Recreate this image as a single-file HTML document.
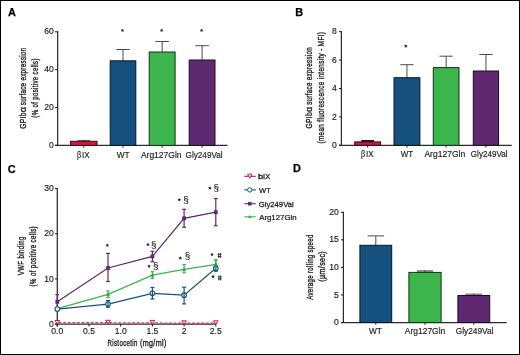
<!DOCTYPE html>
<html><head><meta charset="utf-8"><style>
html,body{margin:0;padding:0;background:#fff;}
body{width:520px;height:355px;overflow:hidden;}
svg{display:block;font-family:"Liberation Sans", sans-serif;will-change:transform;}

</style></head><body>
<svg width="520" height="355" viewBox="0 0 520 355">
<rect x="0.5" y="0.5" width="519" height="354" fill="#fff" stroke="#000" stroke-width="1"/>
<text transform="translate(7.93,15.8) scale(1.0000,1)" font-size="10.9" font-weight="bold" fill="#000" stroke="#000" stroke-width="0.25">A</text>
<line x1="57.65" y1="31.2" x2="57.65" y2="145.4" stroke="#2c2c2c" stroke-width="1.25" />
<line x1="55" y1="145.4" x2="227.5" y2="145.4" stroke="#2c2c2c" stroke-width="1.25" />
<line x1="55" y1="145.4" x2="57.65" y2="145.4" stroke="#1a1a1a" stroke-width="1.0" />
<text transform="translate(49.12,148) scale(1.0000,1)" font-size="8.6" fill="#1a1a1a" stroke="#1a1a1a" stroke-width="0.15">0</text>
<line x1="55" y1="107.53" x2="57.65" y2="107.53" stroke="#1a1a1a" stroke-width="1.0" />
<text transform="translate(44.33,110.13) scale(1.0000,1)" font-size="8.6" fill="#1a1a1a" stroke="#1a1a1a" stroke-width="0.15">20</text>
<line x1="55" y1="69.67" x2="57.65" y2="69.67" stroke="#1a1a1a" stroke-width="1.0" />
<text transform="translate(44.33,72.27) scale(1.0000,1)" font-size="8.6" fill="#1a1a1a" stroke="#1a1a1a" stroke-width="0.15">40</text>
<line x1="55" y1="31.8" x2="57.65" y2="31.8" stroke="#1a1a1a" stroke-width="1.0" />
<text transform="translate(44.33,34.4) scale(1.0000,1)" font-size="8.6" fill="#1a1a1a" stroke="#1a1a1a" stroke-width="0.15">60</text>
<rect x="77.4" y="139.9" width="12.8" height="1.4" fill="#6e6e6e"/>
<line x1="83.8" y1="140.1" x2="83.8" y2="141.3" stroke="#333" stroke-width="0.9" />
<rect x="70.6" y="141.3" width="26.4" height="4.1" fill="#d4153a" stroke="#3f0611" stroke-width="1.0"/>
<line x1="83.8" y1="145.4" x2="83.8" y2="147.6" stroke="#1a1a1a" stroke-width="1.0" />
<line x1="123" y1="49.5" x2="123" y2="60.8" stroke="#4a4a4a" stroke-width="1.0" />
<line x1="116.3" y1="49.5" x2="129.7" y2="49.5" stroke="#4a4a4a" stroke-width="1.0" />
<rect x="110.2" y="60.8" width="25.6" height="84.6" fill="#15507f" stroke="#061826" stroke-width="1.0"/>
<line x1="123" y1="145.4" x2="123" y2="147.6" stroke="#1a1a1a" stroke-width="1.0" />
<line x1="162.15" y1="41.5" x2="162.15" y2="52" stroke="#4a4a4a" stroke-width="1.0" />
<line x1="155.45" y1="41.5" x2="168.85" y2="41.5" stroke="#4a4a4a" stroke-width="1.0" />
<rect x="149.2" y="52" width="25.9" height="93.4" fill="#3bb54c" stroke="#113616" stroke-width="1.0"/>
<line x1="162.15" y1="145.4" x2="162.15" y2="147.6" stroke="#1a1a1a" stroke-width="1.0" />
<line x1="202.1" y1="45.7" x2="202.1" y2="60" stroke="#4a4a4a" stroke-width="1.0" />
<line x1="195.4" y1="45.7" x2="208.8" y2="45.7" stroke="#4a4a4a" stroke-width="1.0" />
<rect x="189.2" y="60" width="25.8" height="85.4" fill="#5e2970" stroke="#1c0c21" stroke-width="1.0"/>
<line x1="202.1" y1="145.4" x2="202.1" y2="147.6" stroke="#1a1a1a" stroke-width="1.0" />
<text transform="translate(76.99,157.6) scale(0.8578,1)" font-size="8.5" fill="#1a1a1a" stroke="#1a1a1a" stroke-width="0.15">β</text>
<text transform="translate(81.96,157.6) scale(0.9479,1)" font-size="8.5" fill="#1a1a1a" stroke="#1a1a1a" stroke-width="0.15">IX</text>
<text transform="translate(116.66,157.6) scale(0.9782,1)" font-size="8.5" fill="#1a1a1a" stroke="#1a1a1a" stroke-width="0.15">WT</text>
<text transform="translate(140.88,157.6) scale(1.0008,1)" font-size="8.5" fill="#1a1a1a" stroke="#1a1a1a" stroke-width="0.15">Arg127Gln</text>
<text transform="translate(185.59,157.6) scale(0.9602,1)" font-size="8.5" fill="#1a1a1a" stroke="#1a1a1a" stroke-width="0.15">Gly249Val</text>
<polygon points="122.5,28.5 123.06,29.63 124.31,29.81 123.4,30.69 123.62,31.94 122.5,31.35 121.38,31.94 121.6,30.69 120.69,29.81 121.94,29.63" fill="#2a2a2a"/>
<polygon points="161.65,28.5 162.21,29.63 163.46,29.81 162.55,30.69 162.77,31.94 161.65,31.35 160.53,31.94 160.75,30.69 159.84,29.81 161.09,29.63" fill="#2a2a2a"/>
<polygon points="201.6,28.5 202.16,29.63 203.41,29.81 202.5,30.69 202.72,31.94 201.6,31.35 200.48,31.94 200.7,30.69 199.79,29.81 201.04,29.63" fill="#2a2a2a"/>
<text transform="translate(26.3,128.74) rotate(-90) scale(0.6837,1)" font-size="9.8" letter-spacing="0.512" fill="#1a1a1a" stroke="#1a1a1a" stroke-width="0.36">GPIb</text>
<text transform="translate(26.3,112.18) rotate(-90) scale(0.9252,1)" font-size="9.8" letter-spacing="0.378" fill="#1a1a1a" stroke="#1a1a1a" stroke-width="0.36">α</text>
<text transform="translate(26.3,105.17) rotate(-90) scale(0.6264,1)" font-size="9.8" letter-spacing="0.559" fill="#1a1a1a" stroke="#1a1a1a" stroke-width="0.36">surface expression</text>
<text transform="translate(38.3,117.68) rotate(-90) scale(0.6190,1)" font-size="9.8" letter-spacing="0.565" fill="#1a1a1a" stroke="#1a1a1a" stroke-width="0.36">(% of positive cells)</text>
<text transform="translate(295.27,16) scale(1.0000,1)" font-size="10.9" font-weight="bold" fill="#000" stroke="#000" stroke-width="0.25">B</text>
<line x1="341.4" y1="31.1" x2="341.4" y2="145.3" stroke="#2c2c2c" stroke-width="1.25" />
<line x1="339" y1="145.3" x2="511.7" y2="145.3" stroke="#2c2c2c" stroke-width="1.25" />
<line x1="339" y1="145.3" x2="341.4" y2="145.3" stroke="#1a1a1a" stroke-width="1.0" />
<text transform="translate(332.02,147.9) scale(1.0000,1)" font-size="8.6" fill="#1a1a1a" stroke="#1a1a1a" stroke-width="0.15">0</text>
<line x1="339" y1="116.9" x2="341.4" y2="116.9" stroke="#1a1a1a" stroke-width="1.0" />
<text transform="translate(332.02,119.5) scale(1.0000,1)" font-size="8.6" fill="#1a1a1a" stroke="#1a1a1a" stroke-width="0.15">2</text>
<line x1="339" y1="88.5" x2="341.4" y2="88.5" stroke="#1a1a1a" stroke-width="1.0" />
<text transform="translate(332.02,91.1) scale(1.0000,1)" font-size="8.6" fill="#1a1a1a" stroke="#1a1a1a" stroke-width="0.15">4</text>
<line x1="339" y1="60.1" x2="341.4" y2="60.1" stroke="#1a1a1a" stroke-width="1.0" />
<text transform="translate(332.02,62.7) scale(1.0000,1)" font-size="8.6" fill="#1a1a1a" stroke="#1a1a1a" stroke-width="0.15">6</text>
<line x1="339" y1="31.7" x2="341.4" y2="31.7" stroke="#1a1a1a" stroke-width="1.0" />
<text transform="translate(332.02,34.3) scale(1.0000,1)" font-size="8.6" fill="#1a1a1a" stroke="#1a1a1a" stroke-width="0.15">8</text>
<rect x="361.25" y="140" width="12.8" height="1.9" fill="#111"/>
<line x1="367.65" y1="140.2" x2="367.65" y2="141.9" stroke="#333" stroke-width="0.9" />
<rect x="354.7" y="141.9" width="25.9" height="3.4" fill="#d4153a" stroke="#3f0611" stroke-width="1.0"/>
<line x1="367.65" y1="145.3" x2="367.65" y2="147.5" stroke="#1a1a1a" stroke-width="1.0" />
<line x1="406.95" y1="64.7" x2="406.95" y2="77.7" stroke="#4a4a4a" stroke-width="1.0" />
<line x1="400.35" y1="64.7" x2="413.55" y2="64.7" stroke="#4a4a4a" stroke-width="1.0" />
<rect x="394" y="77.7" width="25.9" height="67.6" fill="#15507f" stroke="#061826" stroke-width="1.0"/>
<line x1="406.95" y1="145.3" x2="406.95" y2="147.5" stroke="#1a1a1a" stroke-width="1.0" />
<line x1="446.15" y1="56.2" x2="446.15" y2="67.6" stroke="#4a4a4a" stroke-width="1.0" />
<line x1="439.55" y1="56.2" x2="452.75" y2="56.2" stroke="#4a4a4a" stroke-width="1.0" />
<rect x="433.3" y="67.6" width="25.7" height="77.7" fill="#3bb54c" stroke="#113616" stroke-width="1.0"/>
<line x1="446.15" y1="145.3" x2="446.15" y2="147.5" stroke="#1a1a1a" stroke-width="1.0" />
<line x1="485.95" y1="54.5" x2="485.95" y2="71" stroke="#4a4a4a" stroke-width="1.0" />
<line x1="479.35" y1="54.5" x2="492.55" y2="54.5" stroke="#4a4a4a" stroke-width="1.0" />
<rect x="473.3" y="71" width="25.3" height="74.3" fill="#5e2970" stroke="#1c0c21" stroke-width="1.0"/>
<line x1="485.95" y1="145.3" x2="485.95" y2="147.5" stroke="#1a1a1a" stroke-width="1.0" />
<text transform="translate(361.09,157) scale(0.8578,1)" font-size="8.5" fill="#1a1a1a" stroke="#1a1a1a" stroke-width="0.15">β</text>
<text transform="translate(366.06,157) scale(0.9479,1)" font-size="8.5" fill="#1a1a1a" stroke="#1a1a1a" stroke-width="0.15">IX</text>
<text transform="translate(400.66,157) scale(0.9397,1)" font-size="8.5" fill="#1a1a1a" stroke="#1a1a1a" stroke-width="0.15">WT</text>
<text transform="translate(424.38,157) scale(1.0058,1)" font-size="8.5" fill="#1a1a1a" stroke="#1a1a1a" stroke-width="0.15">Arg127Gln</text>
<text transform="translate(470.79,157) scale(0.9550,1)" font-size="8.5" fill="#1a1a1a" stroke="#1a1a1a" stroke-width="0.15">Gly249Val</text>
<polygon points="405.8,44.2 406.36,45.33 407.61,45.51 406.7,46.39 406.92,47.64 405.8,47.05 404.68,47.64 404.9,46.39 403.99,45.51 405.24,45.33" fill="#2a2a2a"/>
<text transform="translate(311.6,128.54) rotate(-90) scale(0.6837,1)" font-size="9.8" letter-spacing="0.512" fill="#1a1a1a" stroke="#1a1a1a" stroke-width="0.36">GPIb</text>
<text transform="translate(311.6,111.88) rotate(-90) scale(0.9252,1)" font-size="9.8" letter-spacing="0.378" fill="#1a1a1a" stroke="#1a1a1a" stroke-width="0.36">α</text>
<text transform="translate(311.6,104.87) rotate(-90) scale(0.6288,1)" font-size="9.8" letter-spacing="0.557" fill="#1a1a1a" stroke="#1a1a1a" stroke-width="0.36">surface expression</text>
<text transform="translate(323.7,143.49) rotate(-90) scale(0.6484,1)" font-size="9.8" letter-spacing="0.540" fill="#1a1a1a" stroke="#1a1a1a" stroke-width="0.36">(mean fluorescence intensity - MFI)</text>
<text transform="translate(7.85,172.6) scale(1.0000,1)" font-size="10.9" font-weight="bold" fill="#000" stroke="#000" stroke-width="0.25">C</text>
<line x1="57.3" y1="187.99" x2="57.3" y2="326.5" stroke="#2c2c2c" stroke-width="1.25" />
<line x1="55" y1="324.1" x2="215.8" y2="324.1" stroke="#2c2c2c" stroke-width="1.25" />
<line x1="55" y1="324.1" x2="57.3" y2="324.1" stroke="#1a1a1a" stroke-width="1.0" />
<text transform="translate(49.12,326.7) scale(1.0000,1)" font-size="8.6" fill="#1a1a1a" stroke="#1a1a1a" stroke-width="0.15">0</text>
<line x1="55" y1="278.93" x2="57.3" y2="278.93" stroke="#1a1a1a" stroke-width="1.0" />
<text transform="translate(44.33,281.53) scale(1.0000,1)" font-size="8.6" fill="#1a1a1a" stroke="#1a1a1a" stroke-width="0.15">10</text>
<line x1="55" y1="233.76" x2="57.3" y2="233.76" stroke="#1a1a1a" stroke-width="1.0" />
<text transform="translate(44.33,236.36) scale(1.0000,1)" font-size="8.6" fill="#1a1a1a" stroke="#1a1a1a" stroke-width="0.15">20</text>
<line x1="55" y1="188.59" x2="57.3" y2="188.59" stroke="#1a1a1a" stroke-width="1.0" />
<text transform="translate(44.33,191.19) scale(1.0000,1)" font-size="8.6" fill="#1a1a1a" stroke="#1a1a1a" stroke-width="0.15">30</text>
<line x1="57.3" y1="324.1" x2="57.3" y2="326.5" stroke="#1a1a1a" stroke-width="1.0" />
<text transform="translate(51.32,334.4) scale(1.0000,1)" font-size="8.6" fill="#1a1a1a" stroke="#1a1a1a" stroke-width="0.15">0.0</text>
<line x1="89" y1="324.1" x2="89" y2="326.5" stroke="#1a1a1a" stroke-width="1.0" />
<text transform="translate(83.02,334.4) scale(1.0000,1)" font-size="8.6" fill="#1a1a1a" stroke="#1a1a1a" stroke-width="0.15">0.5</text>
<line x1="120.7" y1="324.1" x2="120.7" y2="326.5" stroke="#1a1a1a" stroke-width="1.0" />
<text transform="translate(114.72,334.4) scale(1.0000,1)" font-size="8.6" fill="#1a1a1a" stroke="#1a1a1a" stroke-width="0.15">1.0</text>
<line x1="152.4" y1="324.1" x2="152.4" y2="326.5" stroke="#1a1a1a" stroke-width="1.0" />
<text transform="translate(146.42,334.4) scale(1.0000,1)" font-size="8.6" fill="#1a1a1a" stroke="#1a1a1a" stroke-width="0.15">1.5</text>
<line x1="184.1" y1="324.1" x2="184.1" y2="326.5" stroke="#1a1a1a" stroke-width="1.0" />
<text transform="translate(181.71,334.4) scale(1.0000,1)" font-size="8.6" fill="#1a1a1a" stroke="#1a1a1a" stroke-width="0.15">2</text>
<line x1="215.8" y1="324.1" x2="215.8" y2="326.5" stroke="#1a1a1a" stroke-width="1.0" />
<text transform="translate(209.82,334.4) scale(1.0000,1)" font-size="8.6" fill="#1a1a1a" stroke="#1a1a1a" stroke-width="0.15">2.5</text>
<text transform="translate(107.5,345.6) scale(0.6240,1)" font-size="9.8" letter-spacing="0.561" fill="#1a1a1a" stroke="#1a1a1a" stroke-width="0.36">Ristocetin</text>
<text transform="translate(139.95,345.6) scale(0.7346,1)" font-size="9.8" letter-spacing="0.476" fill="#1a1a1a" stroke="#1a1a1a" stroke-width="0.36">(mg/ml)</text>
<text transform="translate(24,275.23) rotate(-90) scale(0.6261,1)" font-size="9.8" letter-spacing="0.559" fill="#1a1a1a" stroke="#1a1a1a" stroke-width="0.36">VWF binding</text>
<text transform="translate(35.8,286.38) rotate(-90) scale(0.6286,1)" font-size="9.8" letter-spacing="0.557" fill="#1a1a1a" stroke="#1a1a1a" stroke-width="0.36">(% of positive cells)</text>
<polyline points="57.3,322.5 108.02,322.7 152.4,322.9 184.1,323.2 215.8,323.2" fill="none" stroke="#dc3a5c" stroke-width="1.2" stroke-dasharray="2.9 1.7" stroke-dashoffset="3.3"/>
<polyline points="57.3,301.8 108.02,268 152.4,256.4 184.1,218.3 215.8,212.2" fill="none" stroke="#5e2970" stroke-width="1.2" />
<line x1="57.3" y1="294.7" x2="57.3" y2="308.9" stroke="#5e2970" stroke-width="1.2" />
<line x1="55.4" y1="294.7" x2="59.2" y2="294.7" stroke="#5e2970" stroke-width="1.2" />
<line x1="55.4" y1="308.9" x2="59.2" y2="308.9" stroke="#5e2970" stroke-width="1.2" />
<line x1="108.02" y1="253.4" x2="108.02" y2="281.5" stroke="#5e2970" stroke-width="1.2" />
<line x1="106.12" y1="253.4" x2="109.92" y2="253.4" stroke="#5e2970" stroke-width="1.2" />
<line x1="106.12" y1="281.5" x2="109.92" y2="281.5" stroke="#5e2970" stroke-width="1.2" />
<line x1="152.4" y1="251.3" x2="152.4" y2="261.7" stroke="#5e2970" stroke-width="1.2" />
<line x1="150.5" y1="251.3" x2="154.3" y2="251.3" stroke="#5e2970" stroke-width="1.2" />
<line x1="150.5" y1="261.7" x2="154.3" y2="261.7" stroke="#5e2970" stroke-width="1.2" />
<line x1="184.1" y1="209.3" x2="184.1" y2="227.3" stroke="#5e2970" stroke-width="1.2" />
<line x1="182.2" y1="209.3" x2="186" y2="209.3" stroke="#5e2970" stroke-width="1.2" />
<line x1="182.2" y1="227.3" x2="186" y2="227.3" stroke="#5e2970" stroke-width="1.2" />
<line x1="215.8" y1="198.6" x2="215.8" y2="225.7" stroke="#5e2970" stroke-width="1.2" />
<line x1="213.9" y1="198.6" x2="217.7" y2="198.6" stroke="#5e2970" stroke-width="1.2" />
<line x1="213.9" y1="225.7" x2="217.7" y2="225.7" stroke="#5e2970" stroke-width="1.2" />
<rect x="55.4" y="299.9" width="3.8" height="3.8" fill="#5e2970"/>
<rect x="106.12" y="266.1" width="3.8" height="3.8" fill="#5e2970"/>
<rect x="150.5" y="254.5" width="3.8" height="3.8" fill="#5e2970"/>
<rect x="182.2" y="216.4" width="3.8" height="3.8" fill="#5e2970"/>
<rect x="213.9" y="210.3" width="3.8" height="3.8" fill="#5e2970"/>
<polyline points="57.3,308.6 108.02,294.4 152.4,275.1 184.1,269.4 215.8,264.4" fill="none" stroke="#3bb54c" stroke-width="1.2" />
<line x1="108.02" y1="291" x2="108.02" y2="297.4" stroke="#3bb54c" stroke-width="1.2" />
<line x1="106.32" y1="291" x2="109.72" y2="291" stroke="#3bb54c" stroke-width="1.2" />
<line x1="106.32" y1="297.4" x2="109.72" y2="297.4" stroke="#3bb54c" stroke-width="1.2" />
<line x1="152.4" y1="271.7" x2="152.4" y2="278.4" stroke="#3bb54c" stroke-width="1.2" />
<line x1="150.7" y1="271.7" x2="154.1" y2="271.7" stroke="#3bb54c" stroke-width="1.2" />
<line x1="150.7" y1="278.4" x2="154.1" y2="278.4" stroke="#3bb54c" stroke-width="1.2" />
<line x1="184.1" y1="264.6" x2="184.1" y2="272.8" stroke="#3bb54c" stroke-width="1.2" />
<line x1="182.4" y1="264.6" x2="185.8" y2="264.6" stroke="#3bb54c" stroke-width="1.2" />
<line x1="182.4" y1="272.8" x2="185.8" y2="272.8" stroke="#3bb54c" stroke-width="1.2" />
<line x1="215.8" y1="260" x2="215.8" y2="267.8" stroke="#3bb54c" stroke-width="1.2" />
<line x1="214.1" y1="260" x2="217.5" y2="260" stroke="#3bb54c" stroke-width="1.2" />
<line x1="214.1" y1="267.8" x2="217.5" y2="267.8" stroke="#3bb54c" stroke-width="1.2" />
<path d="M55.3,310 L59.3,310 L57.3,306.8 Z" fill="#2c9e3e"/>
<path d="M106.02,295.8 L110.02,295.8 L108.02,292.6 Z" fill="#2c9e3e"/>
<path d="M150.4,276.5 L154.4,276.5 L152.4,273.3 Z" fill="#2c9e3e"/>
<path d="M182.1,270.8 L186.1,270.8 L184.1,267.6 Z" fill="#2c9e3e"/>
<path d="M213.8,265.8 L217.8,265.8 L215.8,262.6 Z" fill="#2c9e3e"/>
<polyline points="57.3,309.1 108.02,304.1 152.4,293.3 184.1,295.2 215.8,268.3" fill="none" stroke="#15507f" stroke-width="1.2" />
<circle cx="57.3" cy="309.1" r="2.3" fill="#fff" stroke="#15507f" stroke-width="1.1"/>
<circle cx="108.02" cy="304.1" r="2.3" fill="#fff" stroke="#15507f" stroke-width="1.1"/>
<circle cx="152.4" cy="293.3" r="2.3" fill="#fff" stroke="#15507f" stroke-width="1.1"/>
<circle cx="184.1" cy="295.2" r="2.3" fill="#fff" stroke="#15507f" stroke-width="1.1"/>
<circle cx="215.8" cy="268.3" r="2.3" fill="#fff" stroke="#15507f" stroke-width="1.1"/>
<line x1="108.02" y1="300.6" x2="108.02" y2="307.3" stroke="#15507f" stroke-width="1.2" />
<line x1="106.02" y1="300.6" x2="110.02" y2="300.6" stroke="#15507f" stroke-width="1.2" />
<line x1="106.02" y1="307.3" x2="110.02" y2="307.3" stroke="#15507f" stroke-width="1.2" />
<line x1="152.4" y1="287.5" x2="152.4" y2="299" stroke="#15507f" stroke-width="1.2" />
<line x1="150.4" y1="287.5" x2="154.4" y2="287.5" stroke="#15507f" stroke-width="1.2" />
<line x1="150.4" y1="299" x2="154.4" y2="299" stroke="#15507f" stroke-width="1.2" />
<line x1="184.1" y1="287.2" x2="184.1" y2="303.9" stroke="#15507f" stroke-width="1.2" />
<line x1="182.1" y1="287.2" x2="186.1" y2="287.2" stroke="#15507f" stroke-width="1.2" />
<line x1="182.1" y1="303.9" x2="186.1" y2="303.9" stroke="#15507f" stroke-width="1.2" />
<line x1="215.8" y1="266" x2="215.8" y2="271.2" stroke="#15507f" stroke-width="1.2" />
<line x1="213.8" y1="266" x2="217.8" y2="266" stroke="#15507f" stroke-width="1.2" />
<line x1="213.8" y1="271.2" x2="217.8" y2="271.2" stroke="#15507f" stroke-width="1.2" />
<line x1="215.8" y1="260" x2="215.8" y2="267.8" stroke="#3bb54c" stroke-width="1.2" />
<line x1="214.1" y1="260" x2="217.5" y2="260" stroke="#3bb54c" stroke-width="1.2" />
<line x1="214.1" y1="267.8" x2="217.5" y2="267.8" stroke="#3bb54c" stroke-width="1.2" />
<path d="M213.8,265.8 L217.8,265.8 L215.8,262.6 Z" fill="#2c9e3e"/>
<path d="M55,320.5 L59.6,320.5 L57.3,324.1 Z" fill="#fff" stroke="#d4153a" stroke-width="1.0"/>
<path d="M105.72,320.3 L110.32,320.3 L108.02,323.9 Z" fill="#fff" stroke="#d4153a" stroke-width="1.0"/>
<path d="M150.1,320.4 L154.7,320.4 L152.4,324 Z" fill="#fff" stroke="#d4153a" stroke-width="1.0"/>
<path d="M181.8,320.8 L186.4,320.8 L184.1,324.4 Z" fill="#fff" stroke="#d4153a" stroke-width="1.0"/>
<path d="M213.5,320.8 L218.1,320.8 L215.8,324.4 Z" fill="#fff" stroke="#d4153a" stroke-width="1.0"/>
<polygon points="107.3,243.4 107.86,244.53 109.11,244.71 108.2,245.59 108.42,246.84 107.3,246.25 106.18,246.84 106.4,245.59 105.49,244.71 106.74,244.53" fill="#2a2a2a"/>
<polygon points="147.9,242.6 148.46,243.73 149.71,243.91 148.8,244.79 149.02,246.04 147.9,245.45 146.78,246.04 147,244.79 146.09,243.91 147.34,243.73" fill="#2a2a2a"/>
<text transform="translate(151.1,247.99) scale(1.1504,1)" font-size="8.6" fill="#1a1a1a" stroke="#1a1a1a" stroke-width="0.1">§</text>
<polygon points="149,264.3 149.56,265.43 150.81,265.61 149.9,266.49 150.12,267.74 149,267.15 147.88,267.74 148.1,266.49 147.19,265.61 148.44,265.43" fill="#2a2a2a"/>
<text transform="translate(152.9,269.19) scale(1.1504,1)" font-size="8.6" fill="#1a1a1a" stroke="#1a1a1a" stroke-width="0.1">§</text>
<polygon points="179.3,197.8 179.86,198.93 181.11,199.11 180.2,199.99 180.42,201.24 179.3,200.65 178.18,201.24 178.4,199.99 177.49,199.11 178.74,198.93" fill="#2a2a2a"/>
<text transform="translate(183.2,202.78) scale(1.1504,1)" font-size="8.6" fill="#1a1a1a" stroke="#1a1a1a" stroke-width="0.1">§</text>
<polygon points="209.9,186.2 210.46,187.33 211.71,187.51 210.8,188.39 211.02,189.64 209.9,189.05 208.78,189.64 209,188.39 208.09,187.51 209.34,187.33" fill="#2a2a2a"/>
<text transform="translate(213.4,190.88) scale(1.1504,1)" font-size="8.6" fill="#1a1a1a" stroke="#1a1a1a" stroke-width="0.1">§</text>
<polygon points="180.3,256.2 180.86,257.33 182.11,257.51 181.2,258.39 181.42,259.64 180.3,259.05 179.18,259.64 179.4,258.39 178.49,257.51 179.74,257.33" fill="#2a2a2a"/>
<text transform="translate(184.7,259.08) scale(1.1504,1)" font-size="8.6" fill="#1a1a1a" stroke="#1a1a1a" stroke-width="0.1">§</text>
<polygon points="212,252.6 212.56,253.73 213.81,253.91 212.9,254.79 213.12,256.04 212,255.45 210.88,256.04 211.1,254.79 210.19,253.91 211.44,253.73" fill="#2a2a2a"/>
<path d="M218.75,252.9 L218.55,258 M220.55,252.9 L220.35,258 M217.8,254.45 L221.4,254.45 M217.8,256.55 L221.4,256.55" fill="none" stroke="#222" stroke-width="0.85"/>
<polygon points="213,274.7 213.56,275.83 214.81,276.01 213.9,276.89 214.12,278.14 213,277.55 211.88,278.14 212.1,276.89 211.19,276.01 212.44,275.83" fill="#2a2a2a"/>
<path d="M218.95,275.4 L218.75,280.4 M220.75,275.4 L220.55,280.4 M218,276.9 L221.6,276.9 M218,279 L221.6,279" fill="none" stroke="#222" stroke-width="0.85"/>
<line x1="244.4" y1="176.3" x2="255.8" y2="176.3" stroke="#8a2468" stroke-width="1.1" />
<path d="M247.6,174.2 L252,174.2 L249.8,178.2 Z" fill="#fff" stroke="#d4153a" stroke-width="1.0"/>
<text transform="translate(257.9,179.1) scale(1.1674,1)" font-size="8.0" fill="#1a1a1a" stroke="#1a1a1a" stroke-width="0.4">b</text>
<text transform="translate(263.12,179.1) scale(0.9170,1)" font-size="8.0" fill="#1a1a1a" stroke="#1a1a1a" stroke-width="0.3">IX</text>
<line x1="244.4" y1="189.9" x2="255.8" y2="189.9" stroke="#15507f" stroke-width="1.1" />
<circle cx="249.8" cy="189.9" r="2.2" fill="#fff" stroke="#15507f" stroke-width="1.0"/>
<text transform="translate(259.07,192.7) scale(0.9494,1)" font-size="8.0" fill="#1a1a1a" stroke="#1a1a1a" stroke-width="0.25">WT</text>
<line x1="244.4" y1="203.7" x2="255.8" y2="203.7" stroke="#5e2970" stroke-width="1.1" />
<rect x="248" y="201.9" width="3.6" height="3.6" fill="#5e2970"/>
<text transform="translate(258.81,206.5) scale(0.9618,1)" font-size="8.0" fill="#1a1a1a" stroke="#1a1a1a" stroke-width="0.25">Gly249Val</text>
<line x1="244.4" y1="216.8" x2="255.8" y2="216.8" stroke="#3bb54c" stroke-width="1.1" />
<path d="M248,218.1 L251.6,218.1 L249.8,215.1 Z" fill="#3bb54c"/>
<text transform="translate(259.18,219.6) scale(0.9785,1)" font-size="8.0" fill="#1a1a1a" stroke="#1a1a1a" stroke-width="0.25">Arg127Gln</text>
<text transform="translate(293.07,172.2) scale(1.0000,1)" font-size="10.9" font-weight="bold" fill="#000" stroke="#000" stroke-width="0.25">D</text>
<line x1="343.4" y1="211.7" x2="343.4" y2="322.5" stroke="#2c2c2c" stroke-width="1.25" />
<line x1="341" y1="322.5" x2="506.7" y2="322.5" stroke="#2c2c2c" stroke-width="1.25" />
<line x1="341" y1="322.5" x2="343.4" y2="322.5" stroke="#1a1a1a" stroke-width="1.0" />
<text transform="translate(334.02,325.1) scale(1.0000,1)" font-size="8.6" fill="#1a1a1a" stroke="#1a1a1a" stroke-width="0.15">0</text>
<line x1="341" y1="294.95" x2="343.4" y2="294.95" stroke="#1a1a1a" stroke-width="1.0" />
<text transform="translate(334.02,297.55) scale(1.0000,1)" font-size="8.6" fill="#1a1a1a" stroke="#1a1a1a" stroke-width="0.15">5</text>
<line x1="341" y1="267.4" x2="343.4" y2="267.4" stroke="#1a1a1a" stroke-width="1.0" />
<text transform="translate(329.23,270) scale(1.0000,1)" font-size="8.6" fill="#1a1a1a" stroke="#1a1a1a" stroke-width="0.15">10</text>
<line x1="341" y1="239.85" x2="343.4" y2="239.85" stroke="#1a1a1a" stroke-width="1.0" />
<text transform="translate(329.23,242.45) scale(1.0000,1)" font-size="8.6" fill="#1a1a1a" stroke="#1a1a1a" stroke-width="0.15">15</text>
<line x1="341" y1="212.3" x2="343.4" y2="212.3" stroke="#1a1a1a" stroke-width="1.0" />
<text transform="translate(329.23,214.9) scale(1.0000,1)" font-size="8.6" fill="#1a1a1a" stroke="#1a1a1a" stroke-width="0.15">20</text>
<line x1="375.8" y1="235.9" x2="375.8" y2="245.3" stroke="#4a4a4a" stroke-width="1.0" />
<line x1="367.5" y1="235.9" x2="384.1" y2="235.9" stroke="#4a4a4a" stroke-width="1.0" />
<rect x="359.9" y="245.3" width="31.8" height="77.2" fill="#15507f" stroke="#061826" stroke-width="1.0"/>
<line x1="375.8" y1="322.5" x2="375.8" y2="324.7" stroke="#1a1a1a" stroke-width="1.0" />
<rect x="416.9" y="270.1" width="16.2" height="2.3" fill="#8a8a8a"/>
<line x1="425" y1="270.3" x2="425" y2="272.4" stroke="#333" stroke-width="0.9" />
<rect x="408.9" y="272.4" width="32.2" height="50.1" fill="#3bb54c" stroke="#113616" stroke-width="1.0"/>
<line x1="425" y1="322.5" x2="425" y2="324.7" stroke="#1a1a1a" stroke-width="1.0" />
<rect x="465.4" y="293.5" width="16.8" height="2" fill="#8a8a8a"/>
<line x1="473.8" y1="293.7" x2="473.8" y2="295.5" stroke="#333" stroke-width="0.9" />
<rect x="457.9" y="295.5" width="31.8" height="27" fill="#5e2970" stroke="#1c0c21" stroke-width="1.0"/>
<line x1="473.8" y1="322.5" x2="473.8" y2="324.7" stroke="#1a1a1a" stroke-width="1.0" />
<text transform="translate(368.96,333.5) scale(0.9782,1)" font-size="8.5" fill="#1a1a1a" stroke="#1a1a1a" stroke-width="0.15">WT</text>
<text transform="translate(404.78,333.5) scale(0.9983,1)" font-size="8.5" fill="#1a1a1a" stroke="#1a1a1a" stroke-width="0.15">Arg127Gln</text>
<text transform="translate(455.68,333.5) scale(0.9811,1)" font-size="8.5" fill="#1a1a1a" stroke="#1a1a1a" stroke-width="0.15">Gly249Val</text>
<text transform="translate(312.8,299.81) rotate(-90) scale(0.6161,1)" font-size="9.8" letter-spacing="0.568" fill="#1a1a1a" stroke="#1a1a1a" stroke-width="0.36">Average rolling speed</text>
<text transform="translate(325.3,281.74) rotate(-90) scale(0.7319,1)" font-size="9.8" letter-spacing="0.478" fill="#1a1a1a" stroke="#1a1a1a" stroke-width="0.36">(µm/sec)</text>
</svg>
</body></html>
